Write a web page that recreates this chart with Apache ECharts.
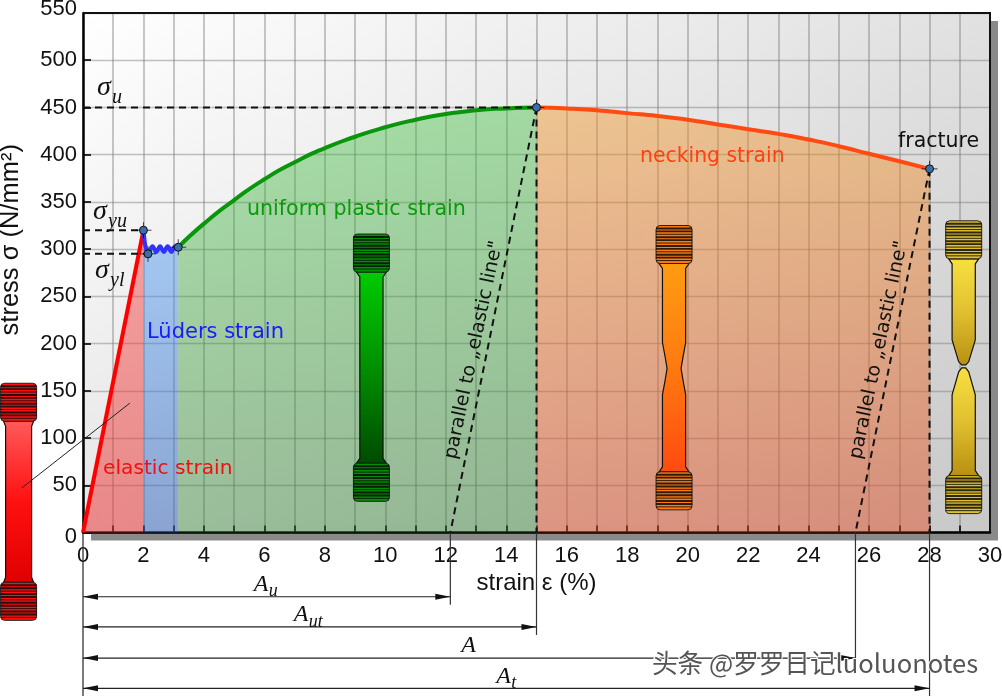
<!DOCTYPE html>
<html>
<head>
<meta charset="utf-8">
<title>stress strain diagram</title>
<style>html,body{margin:0;padding:0;background:#fff}#main{width:1002px;height:696px}</style>
<script src="https://cdn.jsdelivr.net/npm/echarts@6/dist/echarts.min.js"></script>
</head>
<body>
<div id="main"></div>
<script>
// curve: [strain %, stress N/mm2]
var elastic = [[0, 0], [2, 320]];
var luders = [[2, 320], [2.15, 295], [2.3, 303], [2.42, 297], [2.55, 303], [2.67, 297], [2.8, 303], [2.92, 297], [3.05, 303], [3.15, 302]];
var uniform = [[3.15, 302], [4, 327], [5, 352], [6, 374], [7, 392], [8, 407], [9, 419], [10, 429], [11, 437], [12, 443], [13, 447], [14, 449], [15, 450]];
var necking = [[15, 450], [16, 449], [17, 447], [18, 444], [19, 441], [20, 437], [21, 432], [22, 427], [23, 422], [24, 416], [25, 409], [26, 401], [27, 393], [28, 385]];
var keyPoints = [[2, 320], [2.15, 295], [3.15, 302], [15, 450], [28, 385]];
var guideLines = [
    [[0, 450], [15, 450]],
    [[0, 320], [2, 320]],
    [[0, 295], [2.15, 295]],
    [[15, 450], [15, 0]],
    [[28, 385], [28, 0]],
    [[15, 450], [12.15, 0]],
    [[28, 385], [25.55, 0]]
];
var dimEnds = [12.15, 15, 25.55, 28];
var dimLevels = [-68, -100, -133, -165];
var dimNames = [['A', 'u'], ['A', 'ut'], ['A', ''], ['A', 't']];
var specimenX = [-2.13, 9.54, 19.55, 29.13];
var specimenTop = [158, 316, 325, 330];
var specimenBottom = [-93, 33, 24, 20];
var specimenColors = [
    ['#ff5a5a', '#ff1010', '#e00000'],
    ['#00cc00', '#009000', '#004a00'],
    ['#ff9c10', '#ff7a10', '#ff4a10'],
    ['#f8e040', '#e0c030', '#b89010']
];
var leader = [[-2.03, 47], [1.55, 137]];

var FONT = '"Liberation Sans", Arial, sans-serif';
var SERIF = 'italic 24px "Liberation Serif", serif';
var SIGMA = 'italic 28px "Liberation Serif", serif';
var SUB = 'italic 18px "Liberation Serif", serif';
var SIGMA_SUB = 'italic 20px "Liberation Serif", serif';

function mathLabel(x, y, main, sub, subDx, big)
{
    var items = [{
        type: 'text', x: x, y: y, z: 60,
        style: { text: main, font: big ? SIGMA : SERIF, fill: '#111', textVerticalAlign: 'middle' }
    }];
    if (sub) {
        items.push({
            type: 'text', x: x + subDx, y: y + (big ? 10 : 7), z: 60,
            style: { text: sub, font: big ? SIGMA_SUB : SUB, fill: '#111', textVerticalAlign: 'middle' }
        });
    }
    return items;
}

function regionText(x, y, text, color, size)
{
    return {
        type: 'text', x: x, y: y, z: 60,
        style: { text: text, font: size + 'px "DejaVu Sans"', fill: color, textVerticalAlign: 'middle' }
    };
}

function slantText(x, y, text)
{
    return {
        type: 'text', x: x, y: y, z: 60, rotation: 78 * Math.PI / 180,
        style: { text: text, font: '19px "DejaVu Sans"', fill: '#111', textAlign: 'center', textVerticalAlign: 'middle' }
    };
}

function shaftProfile(i, h)
{
    var e = 38, s = 5, w = i === 0 ? 13 : 11.6;
    if (i === 2) {
        return [[[e, 15], [e + s, w], [117, w], [131, 9], [143, 7], [155, 9], [169, w], [h - e - s, w], [h - e, 15]]];
    }
    if (i === 3) {
        return [
            [[e, 15], [e + s, w], [119, w], [141, 5], [144, 2]],
            [[147, 2], [151, 5], [174, w], [h - e - s, w], [h - e, 15]]
        ];
    }
    return [[[e, 15], [e + s, w], [h - e - s, w], [h - e, 15]]];
}

function renderSpecimen(params, api)
{
    var i = params.dataIndex;
    var top = api.coord([api.value(0), api.value(1)]);
    var bottom = api.coord([api.value(0), api.value(2)]);
    var cx = top[0], y0 = top[1], h = bottom[1] - top[1];
    var c = specimenColors[i];
    var children = [];

    shaftProfile(i, h).forEach(function (prof) {
        var right = prof.map(function (p) { return [cx + p[1], y0 + p[0]]; });
        var left = prof.map(function (p) { return [cx - p[1], y0 + p[0]]; }).reverse();
        children.push({
            type: 'polygon',
            shape: { points: right.concat(left) },
            style: {
                fill: { type: 'linear', x: 0, y: 0, x2: 0, y2: 1, colorStops: [
                    { offset: 0, color: c[0] }, { offset: 0.5, color: c[1] }, { offset: 1, color: c[2] }
                ] },
                stroke: '#111', lineWidth: 1.2
            }
        });
    });

    [[y0, c[1]], [y0 + h - 38, c[1]]].forEach(function (t) {
        children.push({
            type: 'rect',
            shape: { x: cx - 18, y: t[0], width: 36, height: 38, r: 4 },
            style: { fill: t[1], stroke: '#222', lineWidth: 1 }
        });
        for (var k = 1; k < 13; k++) {
            children.push({
                type: 'line',
                shape: { x1: cx - 18, y1: t[0] + k * 2.92, x2: cx + 18, y2: t[0] + k * 2.92 },
                style: { stroke: '#0c0c0c', lineWidth: k % 3 ? 1.9 : 1, opacity: 0.85 }
            });
        }
    });
    return { type: 'group', children: children };
}

function renderDimension(params, api)
{
    var i = params.dataIndex;
    var zero = api.coord([0, 0]);
    var start = api.coord([0, api.value(1)]);
    var end = api.coord([api.value(0), api.value(1)]);
    var foot = i === 3 ? 696 : end[1] + 8;
    var children = [
        { type: 'line', shape: { x1: end[0], y1: zero[1], x2: end[0], y2: foot }, style: { stroke: '#333', lineWidth: 1.2 } },
        { type: 'line', shape: { x1: start[0], y1: start[1], x2: end[0], y2: end[1] }, style: { stroke: '#222', lineWidth: 1.2 } },
        { type: 'polygon', shape: { points: [[start[0], start[1]], [start[0] + 15, start[1] - 3], [start[0] + 15, start[1] + 3]] }, style: { fill: '#111' } },
        { type: 'polygon', shape: { points: [[end[0], end[1]], [end[0] - 15, end[1] - 3], [end[0] - 15, end[1] + 3]] }, style: { fill: '#111' } }
    ];
    if (i === 3) {
        children.push({ type: 'line', shape: { x1: start[0], y1: zero[1], x2: start[0], y2: foot }, style: { stroke: '#222', lineWidth: 1.2 } });
    }
    var mid = (start[0] + end[0]) / 2;
    var n = dimNames[i];
    var dx = [13, 16, 8, 10][i];
    return { type: 'group', children: children.concat(mathLabel(mid - dx, end[1] - 12, n[0], n[1], 15)) };
}

function renderPoint(params, api)
{
    var p = api.coord([api.value(0), api.value(1)]);
    return {
        type: 'group',
        children: [
            { type: 'line', shape: { x1: p[0] - 8, y1: p[1], x2: p[0] + 8, y2: p[1] }, style: { stroke: 'rgba(0,0,0,0.7)', lineWidth: 1 } },
            { type: 'line', shape: { x1: p[0], y1: p[1] - 8, x2: p[0], y2: p[1] + 8 }, style: { stroke: 'rgba(0,0,0,0.7)', lineWidth: 1 } },
            { type: 'circle', shape: { cx: p[0], cy: p[1], r: 4 }, style: { fill: '#3a6ea8', stroke: '#111', lineWidth: 1 } }
        ]
    };
}

function renderFrame(params, api)
{
    var a = api.coord([0, 550]);
    var b = api.coord([30, 0]);
    return {
        type: 'polyline',
        shape: { points: [[a[0], a[1]], [b[0], a[1]], [b[0], b[1]]] },
        style: { fill: 'none', stroke: '#111', lineWidth: 2 }
    };
}

function renderLeader(params, api)
{
    var a = api.coord(leader[0]);
    var b = api.coord(leader[1]);
    return {
        type: 'line',
        shape: { x1: a[0], y1: a[1], x2: b[0], y2: b[1] },
        style: { stroke: '#222', lineWidth: 1 }
    };
}

function curve(data, color, fill)
{
    return {
        type: 'line', data: data, symbol: 'none', z: 5,
        lineStyle: { color: color, width: 4 },
        areaStyle: { color: fill, opacity: 1 },
        smooth: data === luders ? 0.4 : (data === elastic ? false : 0.6)
    };
}

function vfill(a, b)
{
    return { type: 'linear', x: 0, y: 0, x2: 0, y2: 1, colorStops: [{ offset: 0, color: a }, { offset: 1, color: b }] };
}

var series = [
    curve(elastic, '#ff0000', vfill('rgba(245,60,60,0.45)', 'rgba(235,50,50,0.52)')),
    curve(luders, '#3232ff', vfill('rgba(70,150,245,0.45)', 'rgba(50,100,190,0.50)')),
    curve(uniform, '#0a960a', vfill('rgba(60,190,60,0.42)', 'rgba(45,130,45,0.40)')),
    curve(necking, '#ff4a12', vfill('rgba(240,150,40,0.46)', 'rgba(225,70,30,0.46)'))
];
guideLines.forEach(function (g) {
    series.push({
        type: 'line', data: g, symbol: 'none', z: 6,
        lineStyle: { color: '#111', width: 2, type: [7, 5] }
    });
});
series.push({
    type: 'custom', z: 4, clip: false,
    data: [[0, 0]],
    encode: { x: 0, y: 1 },
    renderItem: renderFrame
});
series.push({
    type: 'custom', z: 8, clip: false,
    data: specimenX.map(function (x, i) { return [x, specimenTop[i], specimenBottom[i]]; }),
    encode: { x: 0, y: 1 },
    renderItem: renderSpecimen
});
series.push({
    type: 'custom', z: 9, clip: false,
    data: [leader[0]],
    encode: { x: 0, y: 1 },
    renderItem: renderLeader
});
series.push({
    type: 'custom', z: 9, clip: false,
    data: dimEnds.map(function (x, i) { return [x, dimLevels[i]]; }),
    encode: { x: 0, y: 1 },
    renderItem: renderDimension
});
series.push({
    type: 'custom', z: 10, clip: false,
    data: keyPoints,
    encode: { x: 0, y: 1 },
    renderItem: renderPoint
});

var graphics = []
    .concat(mathLabel(97, 88, 'σ', 'u', 15, true))
    .concat(mathLabel(93, 212, 'σ', 'yu', 15, true))
    .concat(mathLabel(95, 271, 'σ', 'yl', 15, true))
    .concat([
        regionText(247, 210, 'uniform plastic strain', '#0a9a0a', 20.6),
        regionText(147, 333, 'Lüders strain', '#1a1aff', 21),
        regionText(103, 469, 'elastic strain', '#f01010', 20.2),
        regionText(640, 157, 'necking strain', '#ff4010', 20.4),
        regionText(898, 142, 'fracture', '#111', 20.5),
        slantText(474, 350, 'parallel to „elastic line"'),
        slantText(879, 350, 'parallel to „elastic line"'),
        {
            type: 'text', x: 652, y: 663, z: 70,
            style: {
                text: '头条 @罗罗日记luoluonotes', font: '25.6px "Noto Sans CJK SC"', fill: '#555',
                stroke: '#fff', lineWidth: 2, textVerticalAlign: 'middle'
            }
        }
    ]);

var myChart = echarts.init(document.getElementById('main'), null, { renderer: 'canvas' });

var option = {
    animation: false,
    backgroundColor: '#fff',
    grid: {
        show: true, left: 83, width: 907, top: 13, height: 519.5,
        outerBoundsMode: 'none',
        borderWidth: 0,
        backgroundColor: { type: 'linear', x: 0, y: 0, x2: 0.6, y2: 1.49, colorStops: [{ offset: 0, color: '#ffffff' }, { offset: 1, color: '#c8c8c8' }] },
        shadowColor: '#8a8a8a', shadowOffsetX: 8, shadowOffsetY: 8, shadowBlur: 0
    },
    xAxis: {
        type: 'value', min: 0, max: 30, interval: 1,
        name: 'strain ε (%)', nameLocation: 'middle', nameGap: 38,
        nameTextStyle: { color: '#111', fontFamily: FONT, fontSize: 24 },
        axisLine: { show: true, lineStyle: { color: '#000', width: 2.5 } },
        axisTick: { show: true, inside: true, length: 7, lineStyle: { color: '#000', width: 1.6 } },
        splitLine: { show: true, lineStyle: { color: 'rgba(120,120,120,0.45)', width: 1.8 } },
        axisLabel: {
            color: '#111', fontFamily: FONT, fontSize: 22, margin: 12, hideOverlap: false,
            showMinLabel: true, showMaxLabel: true,
            formatter: function (v) { return v % 2 === 0 ? String(v) : ''; }
        }
    },
    yAxis: {
        type: 'value', min: 0, max: 550, interval: 50,
        name: 'stress σ (N/mm²)', nameLocation: 'middle', nameGap: 59,
        nameTextStyle: { color: '#111', fontFamily: FONT, fontSize: 25.5, padding: [0, 0, 0, 66] },
        axisLine: { show: true, lineStyle: { color: '#000', width: 2.5 } },
        axisTick: { show: true, inside: true, length: 8, lineStyle: { color: '#000', width: 1.6 } },
        splitLine: { show: true, lineStyle: { color: 'rgba(120,120,120,0.45)', width: 1.4 } },
        axisLabel: {
            color: '#111', fontFamily: FONT, fontSize: 22, margin: 6,
            formatter: function (v) {
                if (v === 550) return '{t|550}';
                if (v === 0) return '{b|0}';
                return String(v);
            },
            rich: {
                t: { color: '#111', fontFamily: FONT, fontSize: 22, padding: [0, 0, 8, 0] },
                b: { color: '#111', fontFamily: FONT, fontSize: 22, padding: [8, 0, 0, 0] }
            }
        }
    },
    series: series,
    graphic: { elements: graphics }
};

if (option && typeof option === 'object') {
    myChart.setOption(option);
}

window.addEventListener('resize', myChart.resize);
</script>
</body>
</html>
